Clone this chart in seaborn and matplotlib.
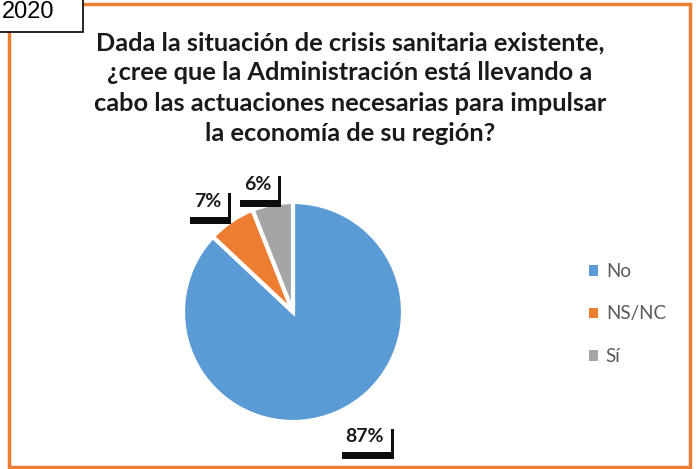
import numpy as np
import matplotlib
matplotlib.use("Agg")
import matplotlib.pyplot as plt
from matplotlib.patches import Rectangle
import seaborn as sns

categories = ["No", "NS/NC", "Sí"]
values = [87, 7, 6]
colors = ["#5B9BD5", "#ED7D31", "#A5A5A5"]
title = ("Dada la situación de crisis sanitaria existente,\n"
         "¿cree que la Administración está llevando a\n"
         "cabo las actuaciones necesarias para impulsar\n"
         "la economía de su región?")
year = "2020"

sns.set_theme(style="white")
plt.rcParams["font.family"] = ["Lato", "DejaVu Sans"]

W, H = 697, 469
fig = plt.figure(figsize=(W / 100, H / 100), dpi=100)

# outer orange frame
fig.patches.append(Rectangle((9 / W, 2 / H), 681 / W, 463 / H, transform=fig.transFigure,
                             fill=False, edgecolor="#ED7D31", linewidth=2.5, zorder=0))

# pie axes: centre (293, 312), radius 110 px
cx, cy, r = 293, 312, 110
ax = fig.add_axes([(cx - r) / W, (H - cy - r) / H, 2 * r / W, 2 * r / H])
wedges, _ = ax.pie(values, colors=colors, startangle=90, counterclock=False,
                   wedgeprops=dict(edgecolor="white", linewidth=3))
ax.set_xlim(-1, 1)
ax.set_ylim(-1, 1)
ax.axis("off")

# label placement: distance from centre (radii) and angle shift (deg)
dists = [1.31, 1.27, 1.20]
shifts = [6.5, 3.6, 4.6]
labels = []
for w, v, d, s in zip(wedges, values, dists, shifts):
    ang = np.deg2rad((w.theta1 + w.theta2) / 2 + s)
    t = ax.text(d * np.cos(ang), d * np.sin(ang), f"{v}%", ha="center", va="center",
                fontsize=14, fontweight="bold", color="#1a1a1a", zorder=4,
                bbox=dict(boxstyle="square,pad=0.35", facecolor="white", edgecolor="none"))
    labels.append(t)

fig.text(350 / W, 1 - 88 / H, title, ha="center", va="center", fontsize=18.3,
         fontweight="bold", color="#1a1a1a", linespacing=1.37)

leg = fig.legend(wedges, categories, loc="center left", bbox_to_anchor=(572 / W, 1 - 314 / H),
                 frameon=False, fontsize=13.5, labelspacing=1.35, handlelength=0.5,
                 handleheight=0.5, handletextpad=0.4)
for txt in leg.get_texts():
    txt.set_color("#595959")
for h in leg.legend_handles:
    h.set_edgecolor("none")

# year box at the top left
fig.patches.append(Rectangle((-2 / W, 1 - 32 / H), 85 / W, 34 / H, transform=fig.transFigure,
                             facecolor="white", edgecolor="black", linewidth=1.2, zorder=5))
fig.text(28 / W, 1 - 12 / H, year, ha="center", va="center", fontsize=17, color="black",
         family=["Liberation Sans", "DejaVu Sans"], zorder=6)

# dark drop shadows behind the label boxes (inside the pie axes, under the labels)
fig.canvas.draw()
inv = ax.transData.inverted()
for t in labels:
    bb = t.get_bbox_patch().get_window_extent()
    (x0, y0), (x1, y1) = inv.transform([(bb.x0 + 3, bb.y0 - 7), (bb.x1 + 3, bb.y1 - 7)])
    ax.add_patch(Rectangle((x0, y0), x1 - x0, y1 - y0, facecolor="black", edgecolor="none",
                           alpha=0.95, zorder=3, clip_on=False))

fig.savefig("out.png", dpi=100, facecolor="white")
